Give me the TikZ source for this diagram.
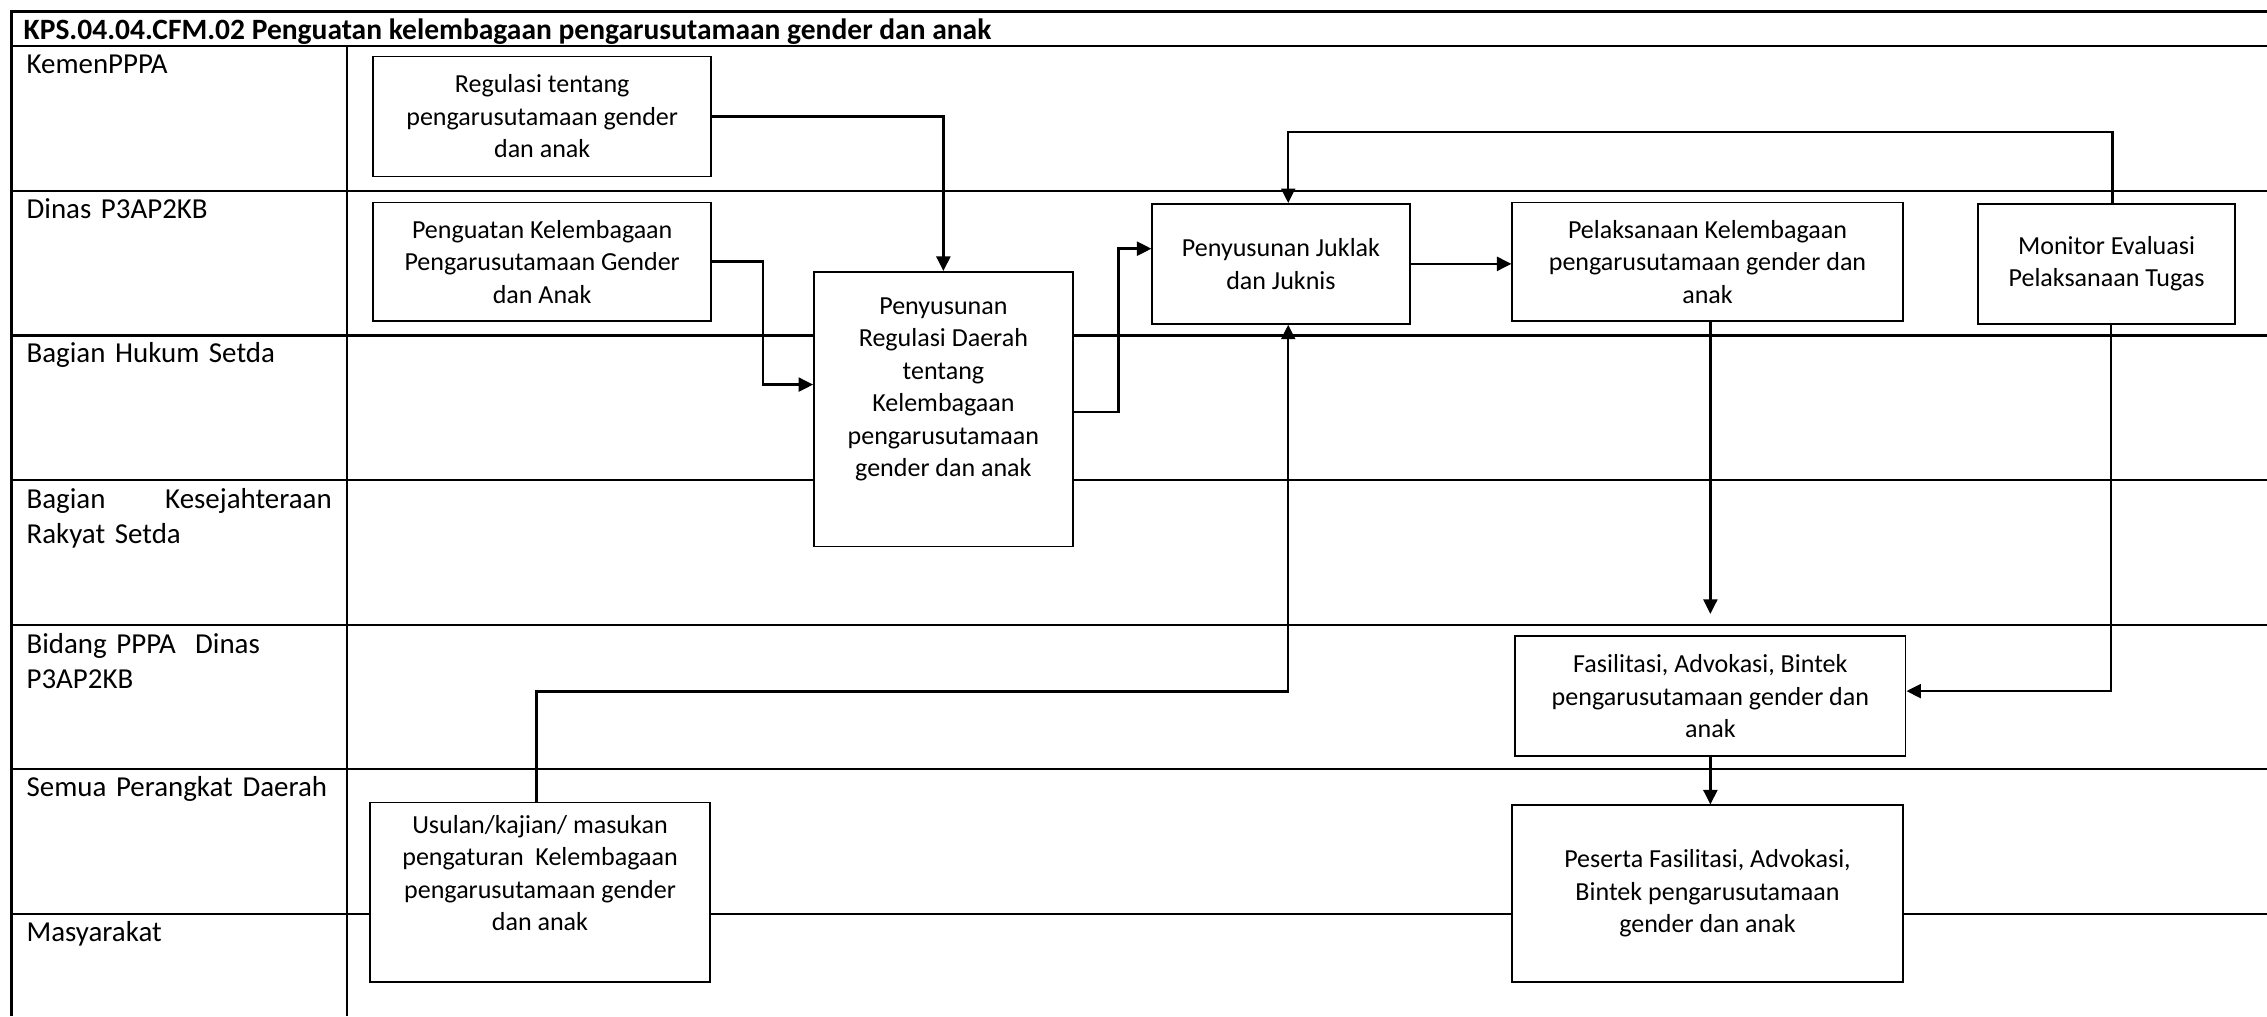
\documentclass[tikz,border=0pt]{standalone}
\usepackage{fontspec}
\setmainfont{Carlito}
\usetikzlibrary{arrows.meta}
\begin{document}
\begin{tikzpicture}[x=0.5pt, y=-0.5pt, line join=miter, >={Triangle[length=5pt,width=4.8pt]},
	lane/.style={line width=0.75pt},
	box/.style={draw, line width=0.6pt, fill=white, align=center, inner sep=0pt, font=\fontsize{9}{11.2}\selectfont},
	lanelabel/.style={anchor=base west, inner sep=0pt, align=left, text width=105.5pt, font=\fontsize{10}{12}\selectfont},
	conn/.style={line width=0.85pt}]
	\useasboundingbox (0,0) rectangle (1568,703);
	% frame and lanes
	\draw[lane] (1568,8)--(8,8)--(8,703) (8,32)--(1568,32) (240,32)--(240,703);
	\foreach \y in {132,232,332,432,532,632}\draw[lane] (8,\y)--(1568,\y);
	\node[anchor=base west, inner sep=0pt, font=\bfseries\fontsize{10.2}{12}\selectfont] (title) at (16,27) {KPS.04.04.CFM.02 Penguatan kelembagaan pengarusutamaan gender dan anak};
	\foreach \n/\y/\t in {kemen/51/KemenPPPA, dinas/151/Dinas P3AP2KB, hukum/251/Bagian Hukum Setda,
		kesra/352/{Bagian\hfill Kesejahteraan\\Rakyat Setda}, bidang/452/{Bidang PPPA\ \ Dinas\\P3AP2KB},
		semua/551/Semua Perangkat Daerah, masy/651/Masyarakat}
		\node[lanelabel] (\n) at (18,\y) {\t};
	% process boxes
	\node[box, minimum width=117pt, minimum height=41.5pt] (reg) at (375,80.5) {Regulasi tentang\\pengarusutamaan gender\\dan anak};
	\node[box, minimum width=117pt, minimum height=41pt] (pgt) at (375,181) {Penguatan Kelembagaan\\Pengarusutamaan Gender\\dan Anak};
	\node[box, minimum width=89.5pt, minimum height=95pt] (prd) at (652.5,283) {Penyusunan\\Regulasi Daerah\\tentang\\Kelembagaan\\pengarusutamaan\\gender dan anak\\[4pt]};
	\node[box, minimum width=89pt, minimum height=41.5pt] (jkl) at (886,182.5) {Penyusunan Juklak\\dan Juknis};
	\node[box, minimum width=135pt, minimum height=41pt] (pel) at (1181,181) {Pelaksanaan Kelembagaan\\pengarusutamaan gender dan\\anak};
	\node[box, minimum width=89pt, minimum height=41.5pt] (mon) at (1457,182.5) {Monitor Evaluasi\\Pelaksanaan Tugas};
	\node[box, minimum width=135pt, minimum height=41.5pt] (fas) at (1183,481.5) {Fasilitasi, Advokasi, Bintek\\pengarusutamaan gender dan\\anak};
	\node[box, minimum width=117.5pt, minimum height=62pt] (usl) at (373.5,617) {Usulan/kajian/ masukan\\pengaturan\ \ Kelembagaan\\pengarusutamaan gender\\dan anak\\[2pt]};
	\node[box, minimum width=135pt, minimum height=61pt] (pes) at (1181,618) {Peserta Fasilitasi, Advokasi,\\Bintek pengarusutamaan\\gender dan anak};
	% connectors
	\draw[conn,->] (reg.east) -| (prd.north);
	\draw[conn,->] (pgt.east) -- ++(35,0) |- ([yshift=8.5pt]prd.west);
	\draw[conn,->] ([yshift=-1pt]prd.east) -- ++(31,0) |- ([yshift=5.25pt]jkl.west);
	\draw[conn,->] (jkl.east) -- (jkl.east -| pel.west);
	\draw[conn,->] ([xshift=2pt]mon.north) -- ++(0,-49) -| ([xshift=2.5pt]jkl.north);
	\draw[conn,->] ([xshift=-1.25pt]usl.north) -- ++(0,-76) -| ([xshift=2.5pt]jkl.south);
	\draw[conn,->] ([xshift=1pt]pel.south) -- ++(0,202);
	\draw[conn,->] ([xshift=1.5pt]mon.south) |- ([yshift=1.75pt]fas.east);
	\draw[conn,->] (fas.south) -- (fas.south |- pes.north);
\end{tikzpicture}
\end{document}
